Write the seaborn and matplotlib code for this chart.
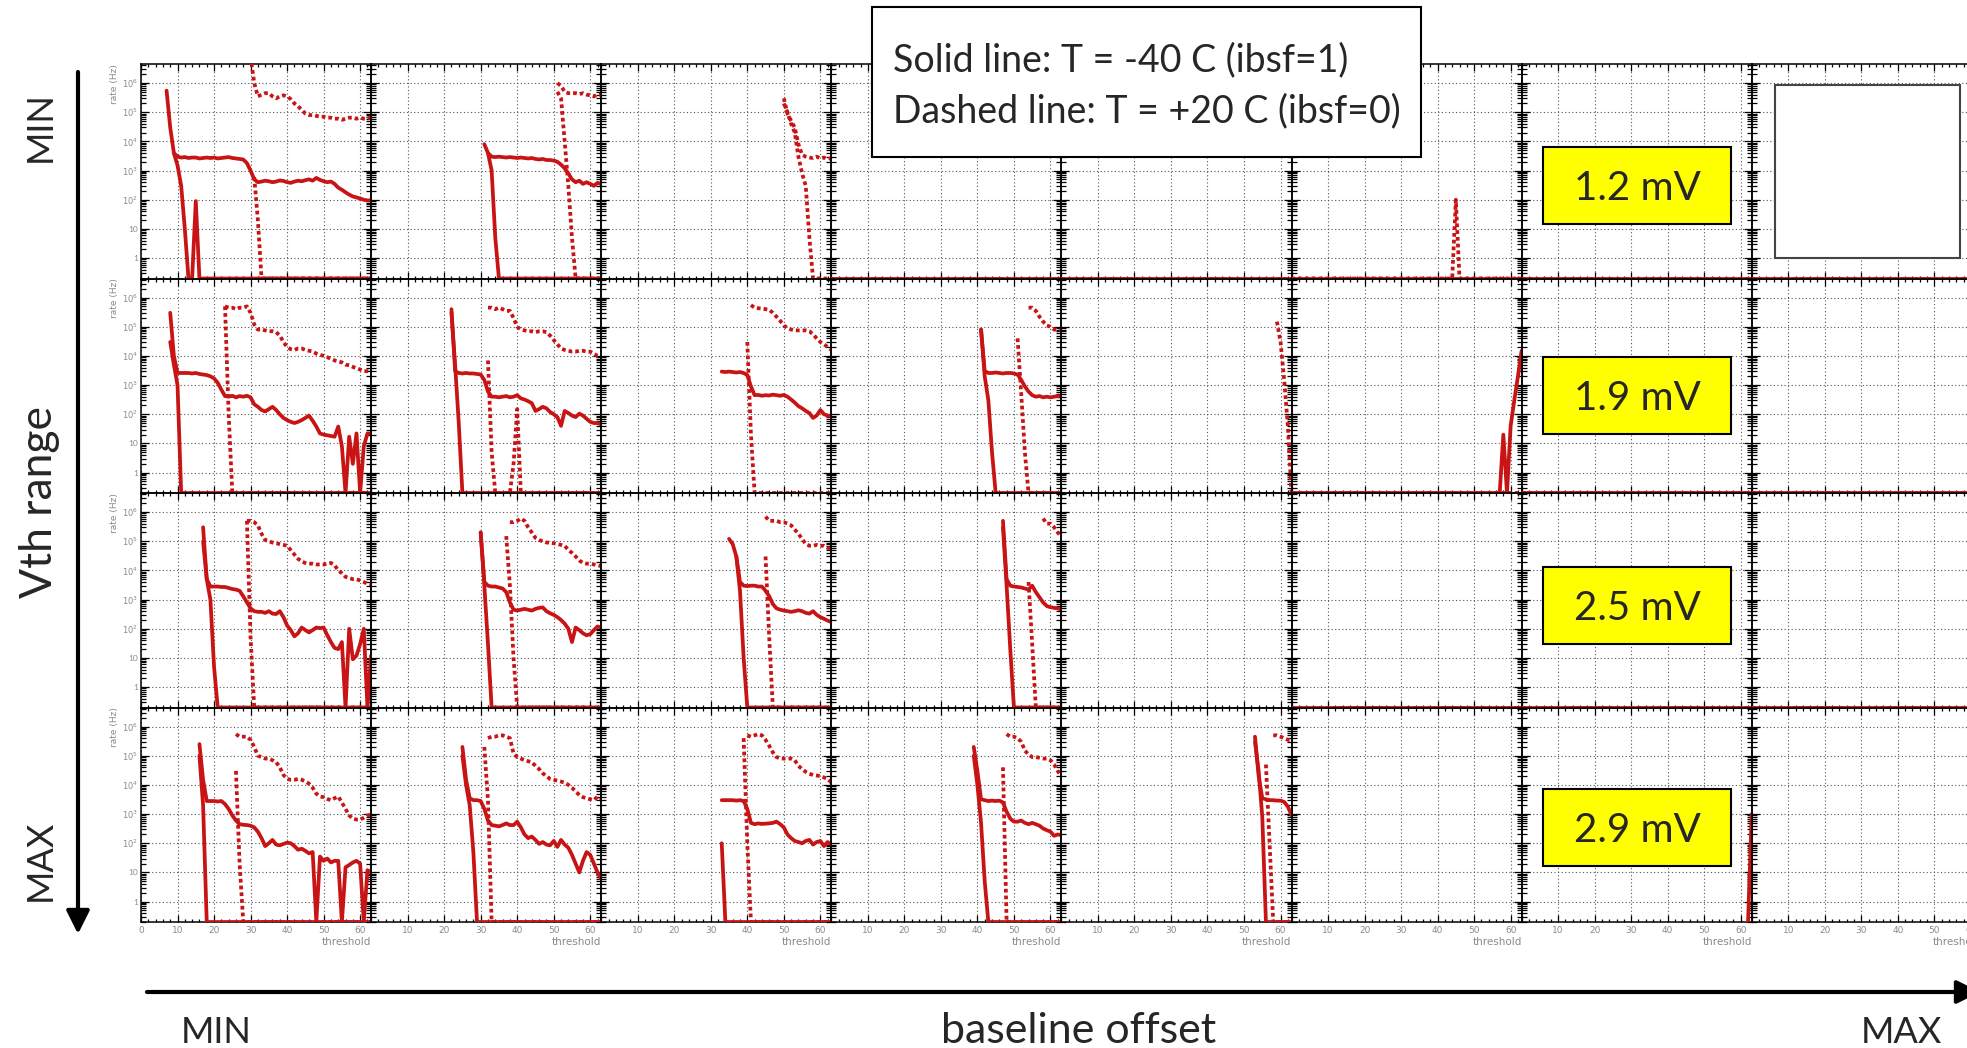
import numpy as np
import pandas as pd
import matplotlib
matplotlib.use("Agg")
import matplotlib.pyplot as plt
import seaborn as sns
from matplotlib.patches import Rectangle
from matplotlib.ticker import FixedLocator, LogLocator, MultipleLocator, FuncFormatter, NullFormatter

# ---------------------------------------------------------------------------
# Threshold scans: noise rate (Hz) vs threshold DAC.
# Rows = Vth range (MIN -> MAX), columns = baseline offset (MIN -> MAX).
# Each scan is (first threshold, [rate at consecutive thresholds]); 0 = no counts.
# ---------------------------------------------------------------------------
VTH_RANGES = ["1.2 mV", "1.9 mV", "2.5 mV", "2.9 mV"]
N_OFFSETS = 8
TEMPERATURES = ["T = -40 C (ibsf=1)", "T = +20 C (ibsf=0)"]
THRESHOLD_TICKS = [0, 10, 20, 30, 40, 50, 60]
RATE_TICKS = [1, 10, 1e2, 1e3, 1e4, 1e5, 1e6]

NO_COUNTS = (0, [0] * 64)

# --- Vth range 1.2 mV ---
R1C1_COLD_A = (7, [5.5e5, 3e4, 4e3, 3e3, 2.8e3, 2.9e3, 2.7e3, 2.8e3, 2.8e3, 2.6e3,
                   2.7e3, 2.8e3, 2.7e3, 2.8e3, 2.6e3, 2.7e3, 2.8e3, 2.9e3, 2.7e3, 2.6e3,
                   2.5e3, 2.4e3, 1.8e3, 1e3, 500, 400, 420, 450, 430, 400,
                   420, 460, 440, 400, 380, 420, 450, 430, 470, 500,
                   450, 560, 480, 430, 400, 420, 350, 260, 220, 180,
                   150, 130, 120, 110, 100, 95, 95])
R1C1_COLD_B = (9, [4e3, 1.5e3, 300, 10, 0, 0, 90, 0] + [0] * 47)
R1C1_WARM_A = (30, [8e6, 1e6, 3.5e5, 4e5, 4.5e5, 4.5e5, 3.5e5, 3e5, 3.5e5, 3.8e5,
                    3.5e5, 2.8e5, 2e5, 1.6e5, 1.2e5, 9e4, 8e4, 8e4, 7.5e4, 7e4,
                    7e4, 6.5e4, 6.5e4, 6e4, 6e4, 5.5e4, 6e4, 6.5e4, 6.5e4, 6e4,
                    6.5e4, 6e4, 6e4, 7e4])
R1C1_WARM_B = (31, [600, 20, 0] + [0] * 30)

R1C2_COLD_A = (31, [8e3, 4e3, 3e3, 2.9e3, 3e3, 2.9e3, 2.8e3, 2.9e3, 2.8e3, 2.7e3,
                    2.8e3, 2.7e3, 2.6e3, 2.7e3, 2.5e3, 2.4e3, 2.5e3, 2.3e3, 2.3e3, 2.2e3,
                    2e3, 1.6e3, 1.2e3, 800, 500, 400, 450, 350, 400, 350,
                    300, 380, 350])
R1C2_COLD_B = (32, [4e3, 1e3, 5, 0] + [0] * 28)
R1C2_WARM_A = (51, [1e6, 8e5, 5e5, 4.5e5, 4.5e5, 4.5e5, 4.2e5, 4.5e5, 4e5, 3.8e5,
                    3.5e5, 4e5, 4e5])
R1C2_WARM_B = (51, [5e5, 3e5, 1e4, 300, 5, 0] + [0] * 7)

R1C3_WARM_A = (50, [3e5, 9e4, 5e4, 3e4, 8e3, 3.5e3, 3e3, 2.8e3, 2.7e3, 3e3,
                    2.6e3, 2.8e3, 2.5e3, 2.7e3])
R1C3_WARM_B = (50, [2e5, 1e5, 4e4, 2e4, 3e3, 800, 300, 5, 0] + [0] * 5)

R1C6_WARM = (0, [0] * 45 + [100] + [0] * 18)

# --- Vth range 1.9 mV ---
R2C1_COLD_A = (8, [3e5, 1e4, 2.6e3, 2.6e3, 2.6e3, 2.6e3, 2.5e3, 2.6e3, 2.4e3, 2.3e3,
                   2.2e3, 2e3, 1.7e3, 1.2e3, 700, 420, 400, 430, 380, 420,
                   400, 430, 380, 220, 180, 140, 125, 150, 180, 140,
                   100, 75, 63, 55, 50, 55, 63, 75, 90, 60,
                   38, 22, 20, 19, 18, 17, 38, 8, 0, 17,
                   2, 22, 0, 8, 22, 22])
R2C1_COLD_B = (8, [3e4, 5e3, 1e3, 0] + [0] * 52)
R2C1_WARM_A = (23, [5e5, 4.5e5, 4.5e5, 4e5, 4.5e5, 4.5e5, 5e5, 3e5, 1.2e5, 8e4,
                    8e4, 7.5e4, 7e4, 7e4, 6.5e4, 5e4, 3e4, 2e4, 1.7e4, 1.6e4,
                    1.8e4, 1.8e4, 1.6e4, 1.5e4, 1.4e4, 1.2e4, 1.1e4, 1e4, 9e3, 8e3,
                    7e3, 6.5e3, 6e3, 5e3, 4.8e3, 4.2e3, 3.8e3, 3.4e3, 3e3, 3e3,
                    2.8e3])
R2C1_WARM_B = (23, [5e5, 100, 0] + [0] * 38)

R2C2_COLD_A = (22, [4e5, 3e3, 2.6e3, 2.5e3, 2.6e3, 2.5e3, 2.5e3, 2.4e3, 2.3e3, 1.5e3,
                    600, 400, 400, 380, 400, 420, 380, 400, 450, 350,
                    320, 280, 240, 130, 150, 180, 160, 120, 100, 80,
                    40, 130, 110, 90, 80, 105, 90, 70, 55, 50,
                    50, 45])
R2C2_COLD_B = (22, [3e5, 5e3, 50, 0] + [0] * 38)
R2C2_WARM_A = (32, [4.5e5, 4.5e5, 4e5, 4.5e5, 4e5, 3.5e5, 3.5e5, 2e5, 1e5, 8e4,
                    7.5e4, 7e4, 7e4, 6.5e4, 7e4, 7e4, 6.5e4, 5e4, 3.5e4, 2.5e4,
                    1.8e4, 1.6e4, 1.5e4, 1.4e4, 1.4e4, 1.5e4, 1.5e4, 1.4e4, 1.4e4, 1.2e4,
                    1e4, 1e4])
R2C2_WARM_B = (32, [7e3, 5, 0, 0, 0, 0, 0, 2, 150, 0] + [0] * 22)

R2C3_COLD_A = (33, [2.9e3, 2.8e3, 2.9e3, 2.8e3, 2.7e3, 2.8e3, 2.6e3, 2.2e3, 900, 450,
                    460, 430, 450, 440, 470, 450, 430, 460, 400, 320,
                    250, 190, 160, 130, 110, 75, 90, 140, 100, 90,
                    85])
R2C3_WARM_A = (41, [5.5e5, 4.5e5, 4.3e5, 4.2e5, 4e5, 3.8e5, 3e5, 2.2e5, 1.6e5, 1.1e5,
                    9e4, 8e4, 7.5e4, 7.5e4, 7.5e4, 7.5e4, 7e4, 5.5e4, 4e4, 3e4,
                    2.5e4, 2e4, 1.6e4])
R2C3_WARM_B = (40, [3e4, 20, 0] + [0] * 21)

R2C4_COLD_A = (41, [8e4, 3e3, 2.6e3, 2.6e3, 2.7e3, 2.6e3, 2.5e3, 2.6e3, 2.6e3, 2.5e3,
                    2.3e3, 1.5e3, 900, 600, 450, 400, 420, 380, 400, 380,
                    400, 420, 400])
R2C4_COLD_B = (41, [8e4, 2e3, 300, 5, 0] + [0] * 18)
R2C4_WARM_A = (54, [4.5e5, 4.5e5, 3.5e5, 2.2e5, 1.5e5, 1.1e5, 1e5, 8e4, 8e4, 7.5e4])
R2C4_WARM_B = (51, [4e4, 500, 5, 0] + [0] * 9)

R2C5_WARM_B = (59, [1.5e5, 3e4, 1.5e3, 40, 0])

R2C6_COLD = (0, [0] * 58 + [20, 0, 40, 300, 2e3, 1.5e4])

# --- Vth range 2.5 mV ---
R3C1_COLD_A = (17, [3e5, 5e3, 2.8e3, 2.8e3, 2.8e3, 2.7e3, 2.7e3, 2.5e3, 2.3e3, 2.2e3,
                    2e3, 1.3e3, 800, 500, 400, 380, 380, 350, 400, 330,
                    320, 400, 250, 130, 90, 55, 70, 110, 90, 75,
                    90, 110, 105, 110, 60, 35, 22, 20, 35, 0,
                    100, 9, 12, 30, 100, 0, 12])
R3C1_COLD_B = (17, [1e5, 5e3, 1e3, 5, 0] + [0] * 42)
R3C1_WARM_A = (29, [5e5, 5e5, 4.5e5, 3.5e5, 1.8e5, 1.1e5, 1e5, 9e4, 8.5e4, 8e4,
                    7.5e4, 7e4, 5e4, 3.5e4, 2.5e4, 2e4, 1.8e4, 1.7e4, 1.7e4, 1.6e4,
                    1.6e4, 1.6e4, 1.7e4, 1.8e4, 1.5e4, 1e4, 8e3, 6e3, 5.5e3, 5e3,
                    5e3, 4.5e3, 4e3, 3.5e3, 3.3e3])
R3C1_WARM_B = (29, [5e5, 50, 0] + [0] * 32)

R3C2_COLD_A = (30, [2e5, 4e3, 3e3, 2.8e3, 2.8e3, 2.6e3, 2.4e3, 1.8e3, 800, 450,
                    420, 450, 480, 450, 420, 480, 520, 540, 400, 340,
                    300, 250, 200, 150, 100, 35, 110, 90, 70, 60,
                    65, 90, 120, 110])
R3C2_COLD_B = (30, [2e5, 3e3, 30, 0] + [0] * 30)
R3C2_WARM_A = (38, [4.5e5, 4.5e5, 5e5, 6e5, 5e5, 3e5, 2e5, 1.3e5, 1.1e5, 1e5,
                    9e4, 9e4, 8.5e4, 8e4, 7.5e4, 7e4, 5e4, 4e4, 3e4, 2.2e4,
                    1.8e4, 1.7e4, 1.7e4, 1.6e4, 1.5e4, 1.4e4])
R3C2_WARM_B = (37, [1.5e5, 3e3, 10, 0] + [0] * 23)

R3C3_COLD_A = (35, [1.2e5, 8e4, 3e4, 4e3, 3e3, 2.9e3, 3e3, 3e3, 2.8e3, 2.8e3,
                    2e3, 1.3e3, 700, 500, 450, 420, 400, 380, 400, 430,
                    400, 350, 330, 400, 300, 250, 220, 190, 170])
R3C3_COLD_B = (37, [3e4, 2e3, 10, 0] + [0] * 23)
R3C3_WARM_A = (45, [7e5, 5e5, 5e5, 5e5, 4.5e5, 4.5e5, 4e5, 3.5e5, 2.5e5, 1.8e5,
                    1.2e5, 8e4, 7e4, 7e4, 7.5e4, 7e4, 7e4, 6e4, 5e4])
R3C3_WARM_B = (45, [3e4, 50, 0] + [0] * 16)

R3C4_COLD_A = (47, [5e5, 5e3, 3e3, 2.8e3, 2.7e3, 2.6e3, 2.4e3, 2.2e3, 3e3, 1.8e3,
                    1.2e3, 800, 600, 550, 520, 500, 450])
R3C4_COLD_B = (47, [3e5, 3e3, 20, 0] + [0] * 13)
R3C4_WARM_A = (58, [6e5, 4e5, 4e5, 3e5, 2e5, 1.4e5])
R3C4_WARM_B = (54, [4e3, 30, 0] + [0] * 7)

# --- Vth range 2.9 mV ---
R4C1_COLD_A = (16, [2.5e5, 1.5e4, 2.8e3, 2.8e3, 2.8e3, 2.7e3, 2.8e3, 2.2e3, 1.5e3, 900,
                    600, 450, 430, 420, 400, 350, 250, 150, 80, 100,
                    130, 90, 85, 95, 105, 100, 80, 60, 65, 55,
                    45, 50, 0, 35, 25, 30, 22, 25, 25, 0,
                    15, 18, 22, 25, 20, 0, 12, 10])
R4C1_COLD_B = (16, [1e5, 2e3, 0] + [0] * 45)
R4C1_WARM_A = (26, [5.5e5, 4.5e5, 4.5e5, 4.5e5, 3.5e5, 2e5, 1e5, 9e4, 8e4, 8e4,
                    7e4, 6e4, 4e4, 2.2e4, 1.6e4, 1.5e4, 1.5e4, 1.6e4, 1.5e4, 1.3e4,
                    1.1e4, 8e3, 5e3, 4e3, 3.8e3, 3.3e3, 3e3, 3.5e3, 4e3, 2.5e3,
                    1.5e3, 900, 700, 650, 650, 750, 900, 950])
R4C1_WARM_B = (26, [3e4, 20, 0] + [0] * 35)

R4C2_COLD_A = (25, [2e5, 1.5e4, 3.5e3, 3e3, 3e3, 2.8e3, 1.5e3, 600, 420, 400,
                    380, 420, 480, 420, 420, 550, 350, 200, 150, 170,
                    130, 95, 110, 90, 85, 120, 75, 130, 90, 70,
                    40, 20, 10, 25, 50, 40, 20, 10, 6])
R4C2_COLD_B = (25, [1e5, 1e4, 2e3, 50, 0] + [0] * 34)
R4C2_WARM_A = (32, [4e5, 4.5e5, 4.5e5, 5e5, 5e5, 4.5e5, 4e5, 1.2e5, 9e4, 8e4,
                    7e4, 6.5e4, 6e4, 4.5e4, 3.5e4, 2.5e4, 2e4, 1.6e4, 1.5e4, 1.4e4,
                    1.3e4, 1.2e4, 1e4, 8e3, 6e3, 4.5e3, 3.8e3, 3.5e3, 3.2e3, 3e3,
                    4e3, 3.5e3])
R4C2_WARM_B = (31, [2e5, 3e3, 0] + [0] * 30)

R4C3_COLD_A = (33, [3e3, 3e3, 3e3, 3e3, 2.9e3, 3e3, 2.8e3, 1.5e3, 500, 450,
                    480, 460, 470, 480, 500, 550, 450, 350, 200, 150,
                    120, 110, 100, 120, 130, 90, 110, 120, 80, 110,
                    90])
R4C3_COLD_B = (33, [100, 0] + [0] * 29)
R4C3_WARM_A = (40, [5e5, 4.5e5, 5e5, 5.5e5, 5e5, 3.5e5, 2.2e5, 1.3e5, 9e4, 8e4,
                    8e4, 8e4, 8e4, 7e4, 4.5e4, 3.5e4, 2.8e4, 2.4e4, 2.2e4, 2.1e4,
                    2e4, 1.8e4, 1.6e4, 1.2e4])
R4C3_WARM_B = (39, [4e5, 100, 0] + [0] * 22)

R4C4_COLD_A = (39, [2e5, 3e4, 3.2e3, 3e3, 2.8e3, 2.9e3, 2.8e3, 2.9e3, 2.5e3, 1.2e3,
                    700, 550, 550, 600, 500, 450, 500, 450, 400, 320,
                    280, 250, 180, 200, 190])
R4C4_COLD_B = (39, [1e5, 1e4, 500, 5, 0] + [0] * 20)
R4C4_WARM_A = (48, [5.5e5, 4.5e5, 4.5e5, 4e5, 3e5, 1.5e5, 1.1e5, 9e4, 9e4, 8.5e4,
                    8e4, 8e4, 7e4, 5e4, 3e4, 2e4])
R4C4_WARM_B = (47, [4e4, 0] + [0] * 15)

R4C5_COLD_A = (53, [4.5e5, 2e4, 3.5e3, 3.2e3, 3e3, 3e3, 2.9e3, 2.9e3, 2.6e3, 1.8e3, 900])
R4C5_COLD_B = (53, [3e5, 3e4, 800, 0] + [0] * 7)
R4C5_WARM_A = (58, [5e5, 5e5, 4.5e5, 4e5, 3.5e5, 3.5e5])
R4C5_WARM_B = (56, [5e4, 100, 0] + [0] * 5)

R4C7_COLD = (62, [0, 1e3])

# (row, col) -> list of (temperature index, trace name, scan)
PANELS = {
    (0, 0): [(0, "a", R1C1_COLD_A), (0, "b", R1C1_COLD_B), (1, "a", R1C1_WARM_A), (1, "b", R1C1_WARM_B)],
    (0, 1): [(0, "a", R1C2_COLD_A), (0, "b", R1C2_COLD_B), (1, "a", R1C2_WARM_A), (1, "b", R1C2_WARM_B)],
    (0, 2): [(1, "a", R1C3_WARM_A), (1, "b", R1C3_WARM_B)],
    (0, 3): [(0, "a", NO_COUNTS), (1, "a", NO_COUNTS)],
    (0, 4): [(0, "a", NO_COUNTS), (1, "a", NO_COUNTS)],
    (0, 5): [(0, "a", NO_COUNTS), (1, "a", R1C6_WARM)],
    (0, 6): [(0, "a", NO_COUNTS), (1, "a", NO_COUNTS)],
    (0, 7): [(0, "a", NO_COUNTS), (1, "a", NO_COUNTS)],
    (1, 0): [(0, "a", R2C1_COLD_A), (0, "b", R2C1_COLD_B), (1, "a", R2C1_WARM_A), (1, "b", R2C1_WARM_B)],
    (1, 1): [(0, "a", R2C2_COLD_A), (0, "b", R2C2_COLD_B), (1, "a", R2C2_WARM_A), (1, "b", R2C2_WARM_B)],
    (1, 2): [(0, "a", R2C3_COLD_A), (1, "a", R2C3_WARM_A), (1, "b", R2C3_WARM_B)],
    (1, 3): [(0, "a", R2C4_COLD_A), (0, "b", R2C4_COLD_B), (1, "a", R2C4_WARM_A), (1, "b", R2C4_WARM_B)],
    (1, 4): [(1, "b", R2C5_WARM_B)],
    (1, 5): [(0, "a", R2C6_COLD), (1, "a", NO_COUNTS)],
    (1, 6): [(0, "a", NO_COUNTS), (1, "a", NO_COUNTS)],
    (1, 7): [(0, "a", NO_COUNTS), (1, "a", NO_COUNTS)],
    (2, 0): [(0, "a", R3C1_COLD_A), (0, "b", R3C1_COLD_B), (1, "a", R3C1_WARM_A), (1, "b", R3C1_WARM_B)],
    (2, 1): [(0, "a", R3C2_COLD_A), (0, "b", R3C2_COLD_B), (1, "a", R3C2_WARM_A), (1, "b", R3C2_WARM_B)],
    (2, 2): [(0, "a", R3C3_COLD_A), (0, "b", R3C3_COLD_B), (1, "a", R3C3_WARM_A), (1, "b", R3C3_WARM_B)],
    (2, 3): [(0, "a", R3C4_COLD_A), (0, "b", R3C4_COLD_B), (1, "a", R3C4_WARM_A), (1, "b", R3C4_WARM_B)],
    (2, 5): [(0, "a", NO_COUNTS), (1, "a", NO_COUNTS)],
    (2, 6): [(0, "a", NO_COUNTS), (1, "a", NO_COUNTS)],
    (2, 7): [(0, "a", NO_COUNTS), (1, "a", NO_COUNTS)],
    (3, 0): [(0, "a", R4C1_COLD_A), (0, "b", R4C1_COLD_B), (1, "a", R4C1_WARM_A), (1, "b", R4C1_WARM_B)],
    (3, 1): [(0, "a", R4C2_COLD_A), (0, "b", R4C2_COLD_B), (1, "a", R4C2_WARM_A), (1, "b", R4C2_WARM_B)],
    (3, 2): [(0, "a", R4C3_COLD_A), (0, "b", R4C3_COLD_B), (1, "a", R4C3_WARM_A), (1, "b", R4C3_WARM_B)],
    (3, 3): [(0, "a", R4C4_COLD_A), (0, "b", R4C4_COLD_B), (1, "a", R4C4_WARM_A), (1, "b", R4C4_WARM_B)],
    (3, 4): [(0, "a", R4C5_COLD_A), (0, "b", R4C5_COLD_B), (1, "a", R4C5_WARM_A), (1, "b", R4C5_WARM_B)],
    (3, 6): [(0, "a", R4C7_COLD)],
}

# ---------------------------------------------------------------------------
# Long-form table
# ---------------------------------------------------------------------------
YMIN, YMAX = 0.2, 4.5e6
records = []
for (row, col), traces in PANELS.items():
    for temp_idx, name, (start, values) in traces:
        for k, rate in enumerate(values):
            records.append({
                "row": row, "col": col,
                "temperature": TEMPERATURES[temp_idx],
                "trace": f"{temp_idx}{name}",
                "threshold": start + k,
                "rate": rate,
            })
scans = pd.DataFrame.from_records(records)
# ROOT-style: empty bins sit on the lower edge of the log axis
scans["rate_drawn"] = scans["rate"].where(scans["rate"] > 0, YMIN)

# ---------------------------------------------------------------------------
# Figure
# ---------------------------------------------------------------------------
sns.set_theme(style="ticks")
plt.rcParams["font.family"] = ["Lato", "DejaVu Sans"]
plt.rcParams["mathtext.fontset"] = "dejavusans"

W, H = 1967, 1048
fig = plt.figure(figsize=(W / 100, H / 100), dpi=100, facecolor="white")

X0, Y0, CW, RH = 141.0, 64.0, 230.1, 214.5
RED = "#c81414"
TICK_GREY = "#8a8a8a"
DASHES = {TEMPERATURES[0]: "", TEMPERATURES[1]: (1.0, 0.8)}


def rate_label(v, _pos):
    if v == 1:
        return "1"
    if v == 10:
        return "10"
    return rf"$10^{{{int(round(np.log10(v)))}}}$"


for row in range(len(VTH_RANGES)):
    for col in range(N_OFFSETS):
        rect = [(X0 + CW * col) / W, 1 - (Y0 + RH * (row + 1)) / H, CW / W, RH / H]
        ax = fig.add_axes(rect)
        ax.set_facecolor("none")
        ax.set_yscale("log")

        sub = scans[(scans["row"] == row) & (scans["col"] == col)]
        if len(sub):
            sns.lineplot(data=sub, x="threshold", y="rate_drawn", units="trace",
                         estimator=None, style="temperature", style_order=TEMPERATURES,
                         dashes=DASHES, color=RED, lw=2.7, legend=False, sort=False,
                         ax=ax, zorder=3)

        ax.set_xlim(0, 63)
        ax.set_ylim(YMIN, YMAX)
        ax.set_xlabel("")
        ax.set_ylabel("")

        ax.xaxis.set_major_locator(FixedLocator(THRESHOLD_TICKS))
        ax.xaxis.set_minor_locator(MultipleLocator(2))
        ax.yaxis.set_major_locator(FixedLocator(RATE_TICKS))
        ax.yaxis.set_minor_locator(LogLocator(base=10, subs=np.arange(2, 10), numticks=30))
        ax.yaxis.set_minor_formatter(NullFormatter())

        ax.grid(True, which="major", linestyle=(0, (1, 2.2)), color="#555555", lw=0.8)
        ax.set_axisbelow(True)
        for sp in ax.spines.values():
            sp.set_color("black")
            sp.set_linewidth(1.1)

        ax.tick_params(axis="both", which="both", direction="in", top=True, right=True,
                       color="black", width=0.9, labelcolor=TICK_GREY)
        ax.tick_params(axis="y", which="major", length=6)
        ax.tick_params(axis="y", which="minor", length=3.5)
        ax.tick_params(axis="x", which="major", length=5)
        ax.tick_params(axis="x", which="minor", length=2.5)

        if col == 0:
            ax.yaxis.set_major_formatter(FuncFormatter(rate_label))
            ax.tick_params(axis="y", which="major", labelsize=6, pad=2)
            ax.set_ylabel("rate (Hz)", loc="top", fontsize=6.5, color=TICK_GREY,
                          labelpad=2, family=["DejaVu Sans"])
        else:
            ax.tick_params(axis="y", labelleft=False)

        if row == len(VTH_RANGES) - 1:
            if col == 0:
                ax.xaxis.set_major_formatter(FuncFormatter(lambda v, p: f"{int(v)}"))
            else:
                ax.xaxis.set_major_formatter(
                    FuncFormatter(lambda v, p: "" if v == 0 else f"{int(v)}"))
            ax.tick_params(axis="x", which="major", labelsize=6.5, pad=3)
            for lab in ax.get_xticklabels():
                lab.set_family("DejaVu Sans")
            ax.set_xlabel("threshold", loc="right", fontsize=7.5, color=TICK_GREY,
                          labelpad=1, family=["DejaVu Sans"])
        else:
            ax.tick_params(axis="x", labelbottom=False)

# ---------------------------------------------------------------------------
# Annotation layer in pixel coordinates
# ---------------------------------------------------------------------------
ov = fig.add_axes([0, 0, 1, 1], zorder=10)
ov.set_xlim(0, W)
ov.set_ylim(H, 0)
ov.axis("off")

# line-style key
ov.add_patch(Rectangle((872, 7), 549, 150, facecolor="white", edgecolor="black", lw=1.5))
ov.text(893, 71, "Solid line: " + TEMPERATURES[0], fontsize=27, va="baseline", ha="left")
ov.text(893, 122, "Dashed line: " + TEMPERATURES[1], fontsize=27, va="baseline", ha="left")

# Vth range tags on each row
for row, label in enumerate(VTH_RANGES):
    cy = [185.5, 395.5, 605.5, 827.5][row]
    ov.add_patch(Rectangle((1543, cy - 38.5), 188, 77, facecolor="#ffff00",
                           edgecolor="black", lw=1.5))
    ov.text(1637, cy + 15, label, fontsize=29, ha="center", va="baseline")

# empty frame in the top-right panel
ov.add_patch(Rectangle((1775, 85), 185, 173, facecolor="white", edgecolor="#444444", lw=1.5))

# axis arrows
arrow_props = dict(arrowstyle="-|>,head_length=0.7,head_width=0.35", lw=3, color="black",
                   shrinkA=0, shrinkB=0, mutation_scale=20)
ov.annotate("", xy=(78, 934), xytext=(78, 72), arrowprops=arrow_props, annotation_clip=False)
ov.annotate("", xy=(1980, 992), xytext=(147, 992), arrowprops=arrow_props, annotation_clip=False)

ov.text(40, 127, "MIN", fontsize=26, rotation=90, ha="center", va="center")
ov.text(40, 502, "Vth range", fontsize=32, rotation=90, ha="center", va="center")
ov.text(40, 860, "MAX", fontsize=26, rotation=90, ha="center", va="center")

ov.text(216, 1043, "MIN", fontsize=26, ha="center", va="baseline")
ov.text(1079, 1043, "baseline offset", fontsize=31, ha="center", va="baseline")
ov.text(1901, 1043, "MAX", fontsize=26, ha="center", va="baseline")

fig.savefig("out.png", dpi=100, facecolor="white")
